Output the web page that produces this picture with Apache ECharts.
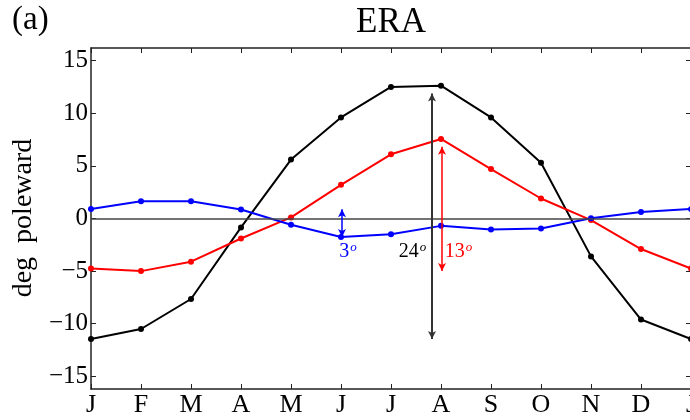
<!DOCTYPE html>
<html>
<head>
<meta charset="utf-8">
<script src="https://cdn.jsdelivr.net/npm/echarts@6/dist/echarts.min.js"></script>
<style>
  html, body { margin: 0; padding: 0; background: #fff; }
  #chart { width: 690px; height: 420px; }
</style>
</head>
<body>
<div id="chart"></div>
<script>
// Month letters for the seasonal cycle (January repeated at the end)
const months = ['J', 'F', 'M', 'A', 'M', 'J', 'J', 'A', 'S', 'O', 'N', 'D', 'J'];

// Poleward displacement (deg) per month
const blackSeries = [-11.45, -10.5, -7.65, -0.85, 5.6, 9.6, 12.5, 12.62, 9.6, 5.3, -3.6, -9.6, -11.45];
const redSeries   = [-4.75, -5.0, -4.1, -1.9, 0.1, 3.2, 6.1, 7.56, 4.7, 1.9, -0.15, -2.9, -4.75];
const blueSeries  = [0.9, 1.63, 1.63, 0.85, -0.6, -1.75, -1.5, -0.7, -1.05, -0.95, 0.02, 0.62, 0.9];

// Seasonal ranges quoted next to the arrows (deg)
const blueRange = 3;
const blackRange = 24;
const redRange = 13;

// Y tick values
const yTicks = [-15, -10, -5, 0, 5, 10, 15];

const FONT = '"Liberation Serif", "DejaVu Serif", serif';
const AXIS_COLOR = '#222';

function seriesPoints(vals) {
  return vals.map((v, i) => [i, v]);
}

// Vertical double-headed arrow spanning a series' min..max (slightly shortened at the top)
function rangeArrow(vals, x, color, width) {
  const lo = Math.min(...vals);
  const hi = Math.max(...vals);
  return {
    silent: true,
    animation: false,
    symbol: ['arrow', 'arrow'],
    symbolSize: [6, 8],
    label: { show: false },
    lineStyle: { color: color, width: width, type: 'solid' },
    data: [[{ coord: [x, lo] }, { coord: [x, hi - 0.75] }]]
  };
}

function rangeLabel(text, x, y, color) {
  return {
    coord: [x, y],
    symbolSize: 0,
    label: {
      show: true,
      position: 'inside',
      formatter: '{n|' + text + '}{s|o}',
      rich: {
        n: { fontFamily: FONT, fontSize: 20, color: color },
        s: { fontFamily: FONT, fontSize: 13, fontStyle: 'italic', color: color, verticalAlign: 'top', padding: [0, 0, 9, 1] }
      }
    }
  };
}

const chart = echarts.init(document.getElementById('chart'), null, { renderer: 'canvas' });

const xAxisCommon = {
  type: 'value',
  min: 0,
  max: 12,
  interval: 1,
  splitLine: { show: false },
  axisLine: { show: true, onZero: false, lineStyle: { color: AXIS_COLOR, width: 1.5 } },
  axisTick: { show: true, inside: true, length: 5, lineStyle: { color: AXIS_COLOR, width: 1 } }
};

const yAxisCommon = {
  type: 'value',
  min: -16.2,
  max: 16.2,
  splitLine: { show: false },
  axisLine: { show: true, onZero: false, lineStyle: { color: AXIS_COLOR, width: 1.5 } },
  axisTick: { show: true, inside: true, length: 5, customValues: yTicks, lineStyle: { color: AXIS_COLOR, width: 1 } }
};

const option = {
  animation: false,
  backgroundColor: '#ffffff',
  grid: { left: 91, top: 48, width: 600, height: 341, containLabel: false, outerBoundsMode: 'none' },
  xAxis: [
    Object.assign({}, xAxisCommon, {
      position: 'bottom',
      axisLabel: {
        show: true,
        margin: 3,
        color: '#000',
        fontFamily: FONT,
        fontSize: 26,
        hideOverlap: false,
        formatter: v => months[Math.round(v)] || ''
      }
    }),
    Object.assign({}, xAxisCommon, { position: 'top', axisLabel: { show: false } })
  ],
  yAxis: [
    Object.assign({}, yAxisCommon, {
      position: 'left',
      axisLabel: {
        show: true,
        margin: 3,
        color: '#000',
        fontFamily: FONT,
        fontSize: 25,
        customValues: yTicks,
        formatter: v => (v < 0 ? '\u2212' + Math.abs(v) : String(v))
      }
    }),
    Object.assign({}, yAxisCommon, { position: 'right', axisLabel: { show: false } })
  ],
  graphic: [
    {
      type: 'text', x: 391, y: 5,
      style: { text: 'ERA', font: '35px ' + FONT, fill: '#000', textAlign: 'center', textVerticalAlign: 'top' }
    },
    {
      type: 'text', x: 12, y: 4,
      style: { text: '(a)', font: '33px ' + FONT, fill: '#000', textAlign: 'left', textVerticalAlign: 'top' }
    },
    {
      type: 'text', x: 24, y: 218, rotation: Math.PI / 2,
      style: { text: 'deg  poleward', font: '28px ' + FONT, fill: '#000', textAlign: 'center', textVerticalAlign: 'middle' }
    }
  ],
  series: [
    {
      // zero reference line
      type: 'line',
      data: [],
      silent: true,
      markLine: {
        silent: true,
        symbol: 'none',
        label: { show: false },
        lineStyle: { color: '#444', width: 1.5, type: 'solid' },
        data: [{ yAxis: 0 }]
      }
    },
    {
      name: 'black',
      type: 'line',
      data: seriesPoints(blackSeries),
      symbol: 'circle',
      symbolSize: 6,
      lineStyle: { color: '#000', width: 2 },
      itemStyle: { color: '#000' },
      z: 3,
      markLine: rangeArrow(blackSeries, 6.82, '#333', 2),
      markPoint: { silent: true, data: [rangeLabel(String(blackRange), 6.43, -3.2, '#000')] }
    },
    {
      name: 'red',
      type: 'line',
      data: seriesPoints(redSeries),
      symbol: 'circle',
      symbolSize: 6,
      lineStyle: { color: '#ff0000', width: 2 },
      itemStyle: { color: '#ff0000' },
      z: 3,
      markLine: rangeArrow(redSeries, 7.02, '#ff0000', 1.5),
      markPoint: { silent: true, data: [rangeLabel(String(redRange), 7.35, -3.2, '#ff0000')] }
    },
    {
      name: 'blue',
      type: 'line',
      data: seriesPoints(blueSeries),
      symbol: 'circle',
      symbolSize: 6,
      lineStyle: { color: '#0000ff', width: 2 },
      itemStyle: { color: '#0000ff' },
      z: 3,
      markLine: rangeArrow(blueSeries, 5.02, '#0000ff', 1.5),
      markPoint: { silent: true, data: [rangeLabel(String(blueRange), 5.14, -3.2, '#0000ff')] }
    }
  ]
};

chart.setOption(option);
</script>
</body>
</html>
